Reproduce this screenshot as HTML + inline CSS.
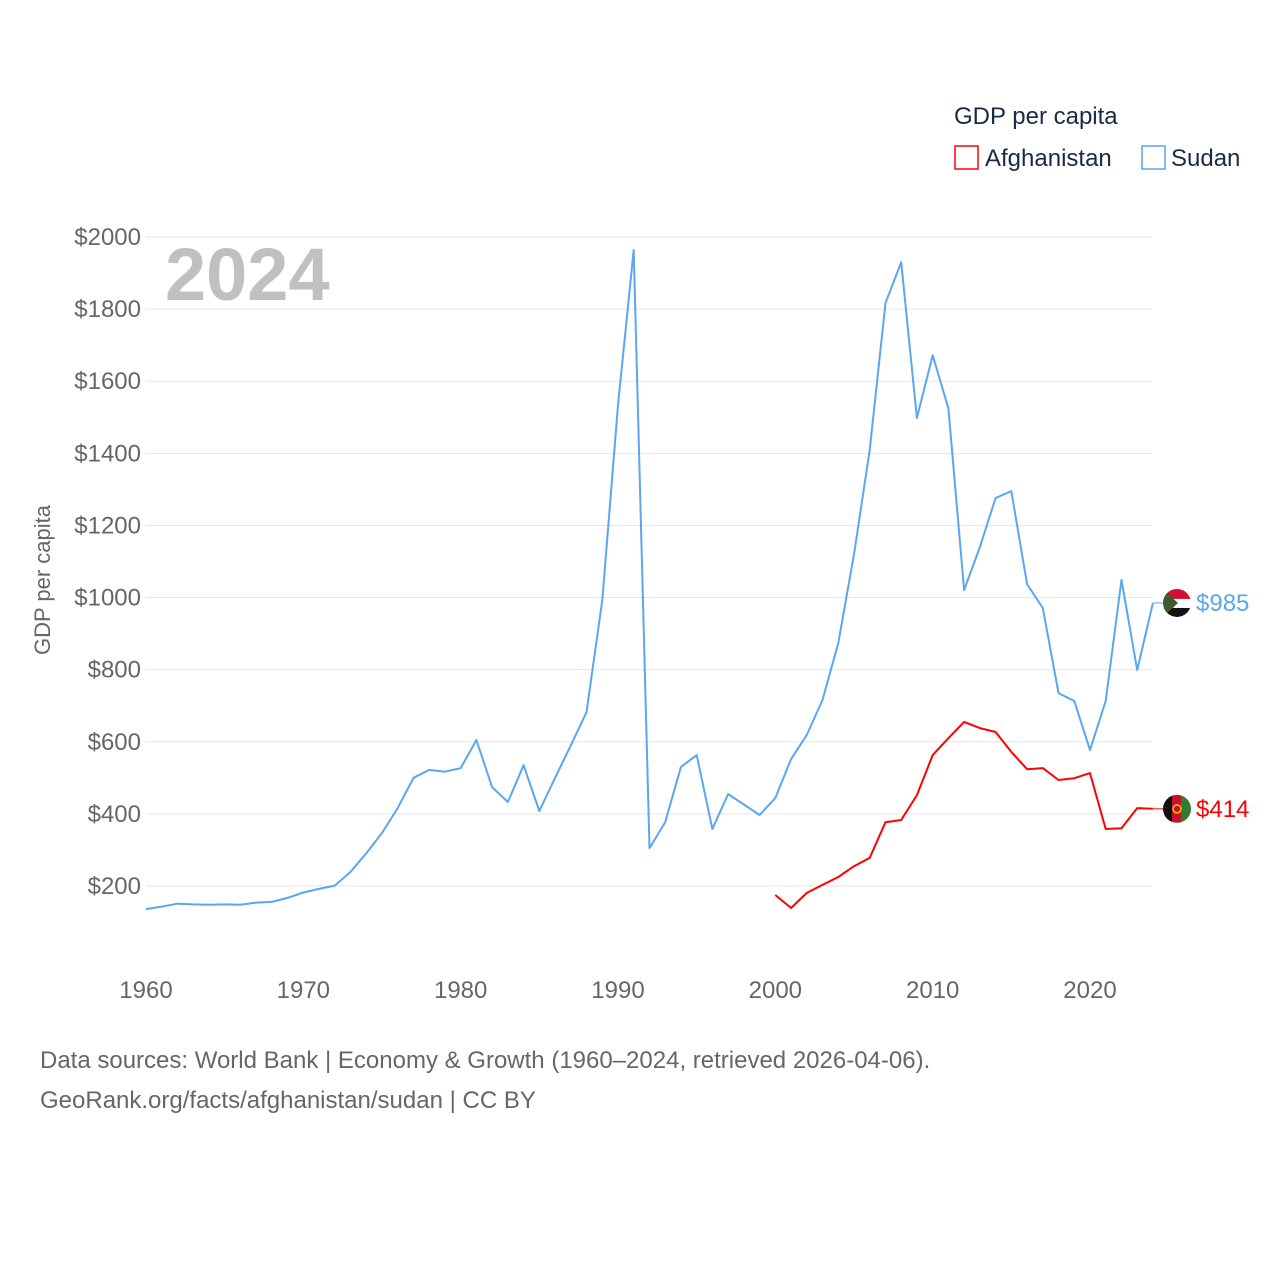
<!DOCTYPE html>
<html><head><meta charset="utf-8"><style>
body{margin:0;background:#fff;font-family:"Liberation Sans",sans-serif}
svg text{font-family:"Liberation Sans",sans-serif}
</style></head><body>
<svg id="chart" width="1280" height="1280" viewBox="0 0 1280 1280">
<g id="grid"></g>
<g id="yticks"></g>
<g id="xticks"></g>
<text x="165" y="300" font-size="74" font-weight="bold" fill="#c0c0c0">2024</text>
<text transform="translate(50,580) rotate(-90)" text-anchor="middle" font-size="22" fill="#666">GDP per capita</text>
<g>
<text x="954" y="124" font-size="24" fill="#1a2a44">GDP per capita</text>
<g><rect x="955" y="146" width="23" height="23" fill="none" stroke="#f00" stroke-width="1.5"/><text x="985" y="166" font-size="24" fill="#1a2a44">Afghanistan</text></g>
<g><rect x="1142" y="146" width="23" height="23" fill="none" stroke="#5aa6ef" stroke-width="1.5"/><text x="1171" y="166" font-size="24" fill="#1a2a44">Sudan</text></g>
</g>
<g id="series"></g>
<text x="40" y="1068" font-size="24" fill="#666">Data sources: World Bank | Economy &amp; Growth (1960–2024, retrieved 2026-04-06).</text>
<text x="40" y="1108" font-size="24" fill="#666">GeoRank.org/facts/afghanistan/sudan | CC BY</text>
</svg>
<script>
const yTicks=[200,400,600,800,1000,1200,1400,1600,1800,2000];
const xTicks=[1960,1970,1980,1990,2000,2010,2020];
const sudanStart=1960;
const sudanValues=[136,143,151,149,148,149,148,154,156,167,182,192,201,239,291,347,416,500,522,517,527,605,474,433,535,408,500,590,682,993,1534,1964,305,377,530,563,358,455,426,397,444,552,619,716,874,1120,1409,1817,1930,1498,1672,1525,1021,1140,1276,1295,1037,971,735,713,577,713,1049,799,985];
const afgStart=2000;
const afgValues=[175,139,181,203,225,255,278,377,383,452,563,610,655,638,627,572,524,527,494,499,513,358,360,416,414];
const NS="http://www.w3.org/2000/svg";
const x=yr=>146+(yr-1960)*(944/60);
const y=v=>886-(v-200)*(649/1800);
function mk(tag,attrs,parent){const e=document.createElementNS(NS,tag);for(const k in attrs)e.setAttribute(k,attrs[k]);parent.appendChild(e);return e;}
const svg=document.getElementById('chart'),grid=document.getElementById('grid'),yt=document.getElementById('yticks'),xt=document.getElementById('xticks'),ser=document.getElementById('series');
const defs=mk('defs',{},svg);
yTicks.forEach(v=>{
 const l=mk('line',{x1:146,x2:1152,y1:y(v),y2:y(v),stroke:'#e6e6e6','stroke-width':1},grid);
 
 
 const t=mk('text',{x:141,y:y(v)+8,'text-anchor':'end','font-size':24,fill:'#666'},yt);
 t.textContent='$'+v;
 
 
});
xTicks.forEach(v=>{
 const t=mk('text',{x:x(v),y:998,'text-anchor':'middle','font-size':24,fill:'#666'},xt);
 t.textContent=v;
 
 
});
function line(start,vals,color,name){
 const d=vals.map((v,i)=>(i?'L':'M')+x(start+i).toFixed(1)+','+y(v).toFixed(1)).join('');
 const p=mk('path',{d:d,fill:'none',stroke:color,'stroke-width':2,'stroke-linejoin':'round'},ser);
 
 
 const last=vals[vals.length-1],ly=y(last),lx=x(start+vals.length-1);
 const c=mk('line',{x1:lx,x2:1165,y1:ly,y2:ly,stroke:color,'stroke-width':1},ser);
 
 
 const cp=mk('clipPath',{id:'clip-'+name},defs);
 mk('circle',{cx:1177,cy:ly,r:14},cp);
 const f=mk('g',{'clip-path':'url(#clip-'+name+')'},ser);
 
 
 if(name==='sudan'){
  mk('rect',{x:1163,y:ly-14,width:28,height:10,fill:'#d21034'},f);
  mk('rect',{x:1163,y:ly-4,width:28,height:9,fill:'#fff'},f);
  mk('rect',{x:1163,y:ly+5,width:28,height:10,fill:'#111'},f);
  mk('path',{d:`M1163,${ly-14} L1178,${ly} L1163,${ly+14}Z`,fill:'#3d5a2a'},f);
 } else {
  mk('rect',{x:1163,y:ly-14,width:10,height:28,fill:'#111'},f);
  mk('rect',{x:1172,y:ly-14,width:10,height:28,fill:'#c8102e'},f);
  mk('rect',{x:1181,y:ly-14,width:10,height:28,fill:'#2e7d32'},f);
  mk('circle',{cx:1177,cy:ly,r:4,fill:'none',stroke:'#f3c400','stroke-width':1.5},f);
 }
 const t=mk('text',{x:1196,y:ly+8,'font-size':24,fill:color},ser);
 t.textContent='$'+last;
 
 
}
line(sudanStart,sudanValues,'#5aa6ef','sudan');
line(afgStart,afgValues,'#f00','afghanistan');
</script>
</body></html>
